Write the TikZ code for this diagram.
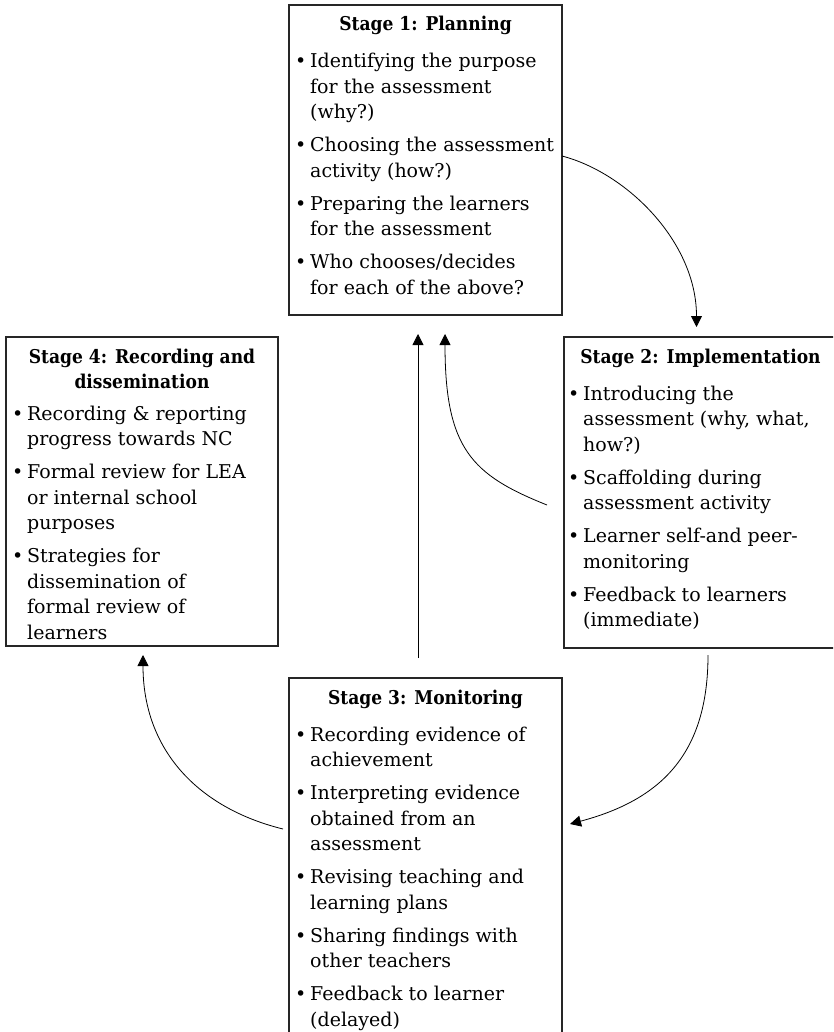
\documentclass[tikz,border=0pt]{standalone}
\usepackage{fontspec}
\setmainfont{DejaVu Serif}[BoldFeatures={FakeStretch=0.9}]
\usetikzlibrary{arrows.meta}

\newcommand{\bodyfont}{\fontsize{19}{25.5}\selectfont}
\newcommand{\bul}{\makebox[15pt][l]{\textbullet}}
\newcommand{\gap}{\\[7.5pt]}

\begin{document}
\begin{tikzpicture}[x=1pt,y=-1pt,
  box/.style={draw=black!85, line width=1.2pt, inner sep=0pt, outer sep=0pt,
    anchor=north west, minimum width=273pt},
  head/.style={anchor=base, inner sep=0pt, font=\bodyfont\bfseries},
  items/.style={anchor=base west, inner sep=0pt, font=\bodyfont},
  flow/.style={line width=0.8pt, -{Triangle[length=11pt,width=11pt]}}]
\useasboundingbox (0,0) rectangle (833,1032);
\clip (0,0) rectangle (833,1032);

% the four stage boxes
\node[box, minimum height=310pt] (b1) at (289,5) {};
\node[box, minimum height=311pt] (b2) at (564,337) {};
\node[box, minimum height=367pt] (b3) at (289,678) {};
\node[box, minimum width=272pt, minimum height=309pt] (b4) at (6,337) {};

% Stage 1
\node[head] (h1) at ([yshift=-26pt]b1.north) {Stage 1: Planning};
\node[items] (l1) at ([xshift=6pt,yshift=-63pt]b1.north west) {%
  \begin{tabular}[t]{@{}l@{}l@{}}
  \bul & Identifying the purpose\\
       & for the assessment\\
       & (why?)\gap
  \bul & Choosing the assessment\\
       & activity (how?)\gap
  \bul & Preparing the learners\\
       & for the assessment\gap
  \bul & Who chooses/decides\\
       & for each of the above?
  \end{tabular}};

% Stage 2
\node[head] (h2) at ([yshift=-26pt]b2.north) {Stage 2: Implementation};
\node[items] (l2) at ([xshift=4pt,yshift=-63pt]b2.north west) {%
  \begin{tabular}[t]{@{}l@{}l@{}}
  \bul & Introducing the\\
       & assessment (why, what,\\
       & how?)\gap
  \bul & Scaffolding during\\
       & assessment activity\gap
  \bul & Learner self-and peer-\\
       & monitoring\gap
  \bul & Feedback to learners\\
       & (immediate)
  \end{tabular}};

% Stage 3
\node[head] (h3) at ([yshift=-26pt]b3.north) {Stage 3: Monitoring};
\node[items] (l3) at ([xshift=6pt,yshift=-63pt]b3.north west) {%
  \begin{tabular}[t]{@{}l@{}l@{}}
  \bul & Recording evidence of\\
       & achievement\gap
  \bul & Interpreting evidence\\
       & obtained from an\\
       & assessment\gap
  \bul & Revising teaching and\\
       & learning plans\gap
  \bul & Sharing findings with\\
       & other teachers\gap
  \bul & Feedback to learner\\
       & (delayed)
  \end{tabular}};

% Stage 4
\node[head] (h4) at ([yshift=-26pt]b4.north) {%
  \begin{tabular}[t]{@{}c@{}}Stage 4: Recording and\\dissemination\end{tabular}};
\node[items] (l4) at ([xshift=6pt,yshift=-83pt]b4.north west) {%
  \begin{tabular}[t]{@{}l@{}l@{}}
  \bul & Recording \& reporting\\
       & progress towards NC\gap
  \bul & Formal review for LEA\\
       & or internal school\\
       & purposes\gap
  \bul & Strategies for\\
       & dissemination of\\
       & formal review of\\
       & learners
  \end{tabular}};

% free ends of the connectors
\coordinate (t12) at ([xshift=-4pt,yshift=10pt]b2.north);
\coordinate (s23) at ([xshift=7.5pt,yshift=-7pt]b2.south);
\coordinate (t23) at ([xshift=8pt,yshift=37.5pt]b3.east);
\coordinate (s34) at ([xshift=-6pt,yshift=32.5pt]b3.west);
\coordinate (t34) at ([xshift=1pt,yshift=-9pt]b4.south);
\coordinate (s31) at ([xshift=-7.5pt,yshift=20pt]b3.north);
\coordinate (t31) at ([xshift=-7.5pt,yshift=-19pt]b1.south);
\coordinate (s21) at ([xshift=-17pt,yshift=-12.5pt]b2.west);
\coordinate (t21) at ([xshift=19.5pt,yshift=-19pt]b1.south);

% cycle connectors
\draw[flow] ([yshift=4pt]b1.east) .. controls +(65,17) and +(0,-85) .. (t12);
\draw[flow] (s23) .. controls +(0,100) and +(90,-24) .. (t23);
\draw[flow] (s34) .. controls +(-85,-21) and +(0,95) .. (t34);
\draw[flow] (s31) -- (t31);
\draw[flow] (s21) .. controls +(-75,-30) and +(0,115) .. (t21);
\end{tikzpicture}
\end{document}
